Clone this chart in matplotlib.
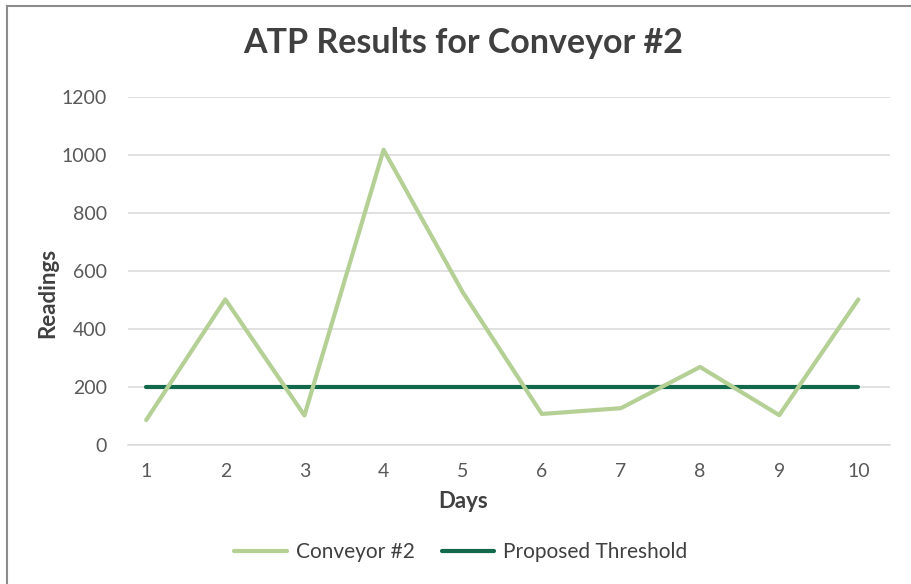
import matplotlib.pyplot as plt
from matplotlib.lines import Line2D

days = [1, 2, 3, 4, 5, 6, 7, 8, 9, 10]
conveyor = [86, 502, 102, 1018, 527, 107, 127, 269, 103, 502]
threshold = [200] * len(days)
y_ticks = [0, 200, 400, 600, 800, 1000, 1200]

plt.rcParams['font.family'] = ['Lato', 'DejaVu Sans']

W, H = 911, 584
fig = plt.figure(figsize=(W / 100, H / 100), dpi=100)
ax = fig.add_axes([128 / W, 1 - 445 / H, 762 / W, 348 / H])

ax.plot(days, conveyor, color='#B4D094', lw=3.0, solid_capstyle='round',
        solid_joinstyle='round', label='Conveyor #2', zorder=3)
ax.plot(days, threshold, color='#11684A', lw=3.0, solid_capstyle='round',
        label='Proposed Threshold', zorder=2)

ax.set_xlim(0.77, 10.4)
ax.set_ylim(0, 1200)
ax.set_xticks(days)
ax.set_yticks(y_ticks)
ax.tick_params(length=0, labelsize=14, labelcolor='#595959')
ax.tick_params(axis='x', pad=13)
ax.tick_params(axis='y', pad=15)
ax.grid(axis='y', color='#D9D9D9', lw=1.1)
ax.set_axisbelow(True)
for s in ['top', 'right', 'left']:
    ax.spines[s].set_visible(False)
ax.spines['bottom'].set_color('#D9D9D9')
ax.spines['bottom'].set_linewidth(1.1)

# axis titles placed like the original (not centred on the plot area)
fig.text(463 / W, 1 - 501 / H, 'Days', ha='center', va='center',
         fontsize=16, fontweight='bold', color='#404040')
fig.text(48 / W, 1 - 293 / H, 'Readings', ha='center', va='center', rotation=90,
         fontsize=16, fontweight='bold', color='#404040')
fig.text(463 / W, 1 - 43 / H, 'ATP Results for Conveyor #2', ha='center', va='center',
         fontsize=24.5, fontweight='bold', color='#404040')

fig.legend(loc='center', bbox_to_anchor=(461 / W, 1 - 552 / H), ncol=2, frameon=False,
           fontsize=15, labelcolor='#404040', handlelength=2.5, columnspacing=1.3,
           handletextpad=0.45)

# chart area border (top and left edges visible)
fig.add_artist(Line2D([7 / W, 1], [1 - 5.5 / H] * 2, transform=fig.transFigure,
                      color='#8C8C8C', lw=1.5))
fig.add_artist(Line2D([7 / W] * 2, [0, 1 - 5.5 / H], transform=fig.transFigure,
                      color='#8C8C8C', lw=1.5))

fig.savefig('out.png', dpi=100)
